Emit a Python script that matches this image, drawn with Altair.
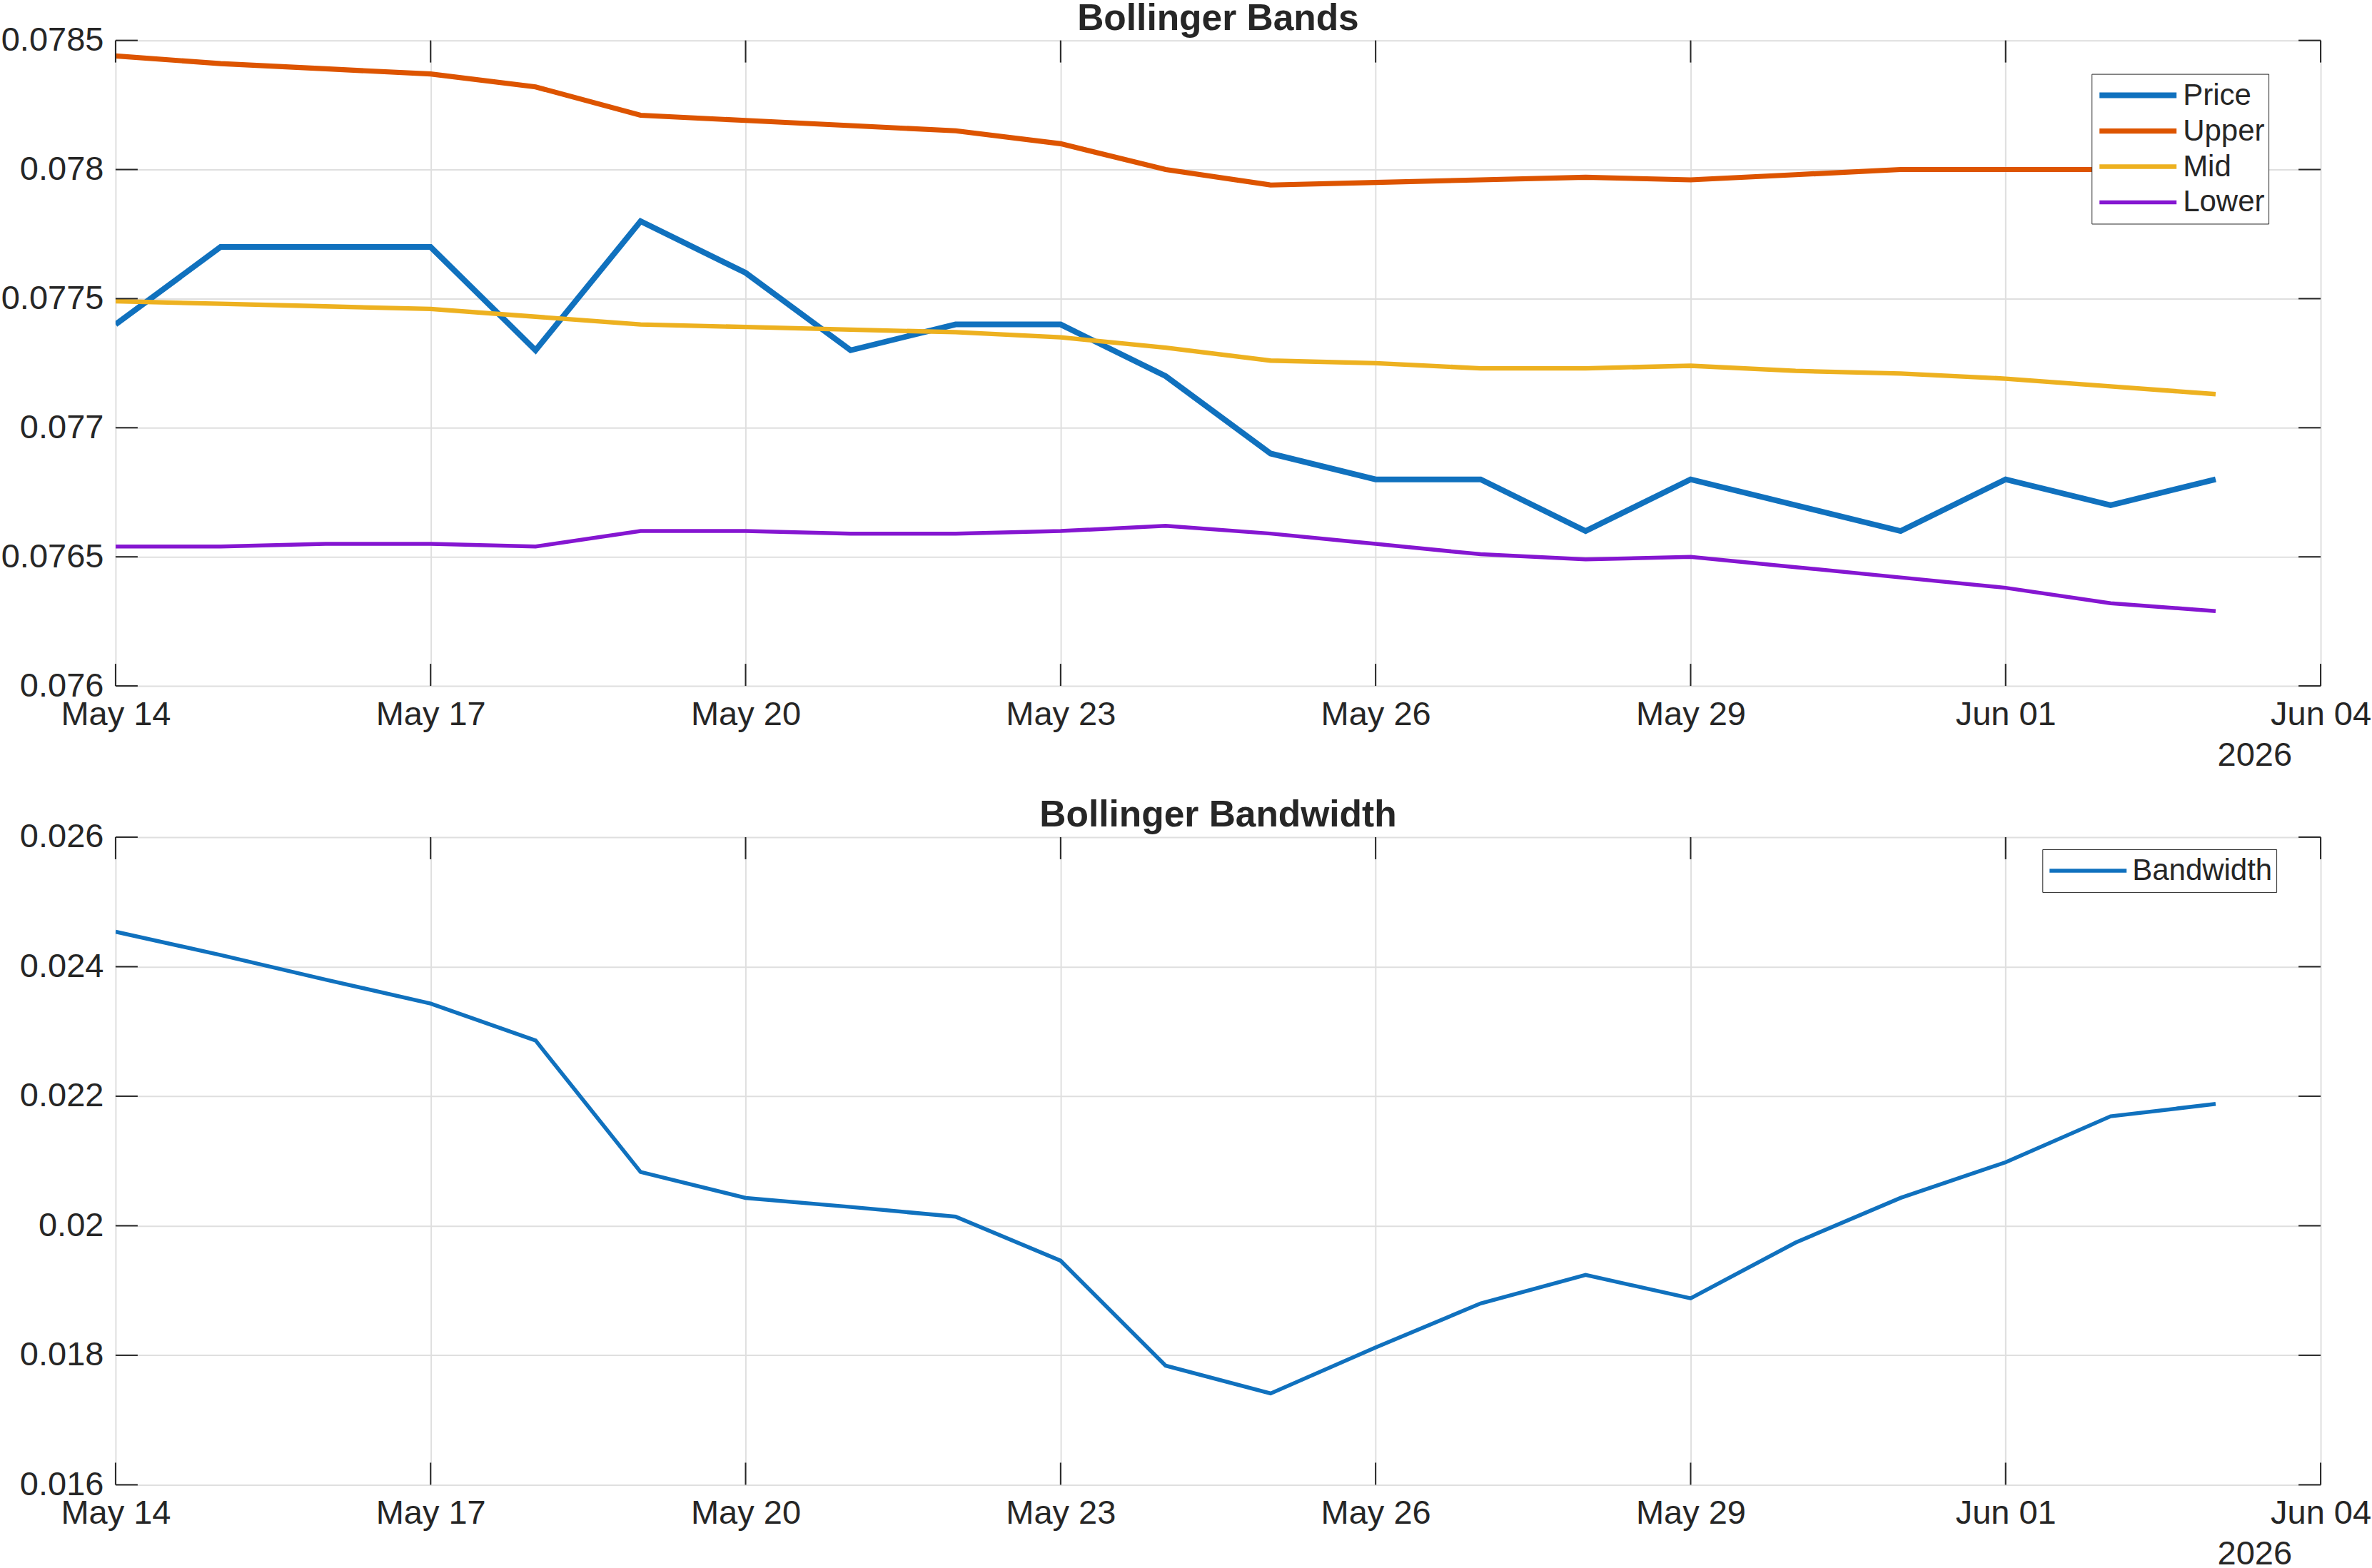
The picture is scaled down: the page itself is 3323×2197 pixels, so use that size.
import altair as alt
import pandas as pd

# ---------------- data ----------------
dates = ["2026-05-14", "2026-05-15", "2026-05-16", "2026-05-17", "2026-05-18",
         "2026-05-19", "2026-05-20", "2026-05-21", "2026-05-22", "2026-05-23",
         "2026-05-24", "2026-05-25", "2026-05-26", "2026-05-27", "2026-05-28",
         "2026-05-29", "2026-05-30", "2026-05-31", "2026-06-01", "2026-06-02",
         "2026-06-03"]
price = [0.0774, 0.0777, 0.0777, 0.0777, 0.0773, 0.0778, 0.0776, 0.0773, 0.0774, 0.0774,
         0.0772, 0.0769, 0.0768, 0.0768, 0.0766, 0.0768, 0.0767, 0.0766, 0.0768, 0.0767,
         0.0768]
upper = [0.07844, 0.07841, 0.07839, 0.07837, 0.07832, 0.07821, 0.07819, 0.07817, 0.07815, 0.07810,
         0.07800, 0.07794, 0.07795, 0.07796, 0.07797, 0.07796, 0.07798, 0.07800, 0.07800, 0.07800,
         0.07799]
mid = [0.07749, 0.07748, 0.07747, 0.07746, 0.07743, 0.07740, 0.07739, 0.07738, 0.07737, 0.07735,
       0.07731, 0.07726, 0.07725, 0.07723, 0.07723, 0.07724, 0.07722, 0.07721, 0.07719, 0.07716,
       0.07713]
lower = [0.07654, 0.07654, 0.07655, 0.07655, 0.07654, 0.07660, 0.07660, 0.07659, 0.07659, 0.07660,
         0.07662, 0.07659, 0.07655, 0.07651, 0.07649, 0.07650, 0.07646, 0.07642, 0.07638, 0.07632,
         0.07629]
bandwidth = [0.02454, 0.02418, 0.02380, 0.02343, 0.02286, 0.02083, 0.02043, 0.02029, 0.02014, 0.01946,
             0.01784, 0.01741, 0.01812, 0.01880, 0.01924, 0.01888, 0.01974, 0.02043, 0.02098, 0.02169,
             0.02188]

series_names = ["Price", "Upper", "Mid", "Lower"]
series_colors = ["#1071BE", "#DD5400", "#EDB120", "#8516D1"]
series_widths = [8, 5.5, 5.5, 5.5]
bw_names = ["Bandwidth"]
bw_colors = ["#1071BE"]
bw_widths = [5.5]

bands_yticks = [0.076, 0.0765, 0.077, 0.0775, 0.078, 0.0785]
bw_yticks = [0.016, 0.018, 0.02, 0.022, 0.024, 0.026]
xtick_dates = ["2026-05-14", "2026-05-17", "2026-05-20", "2026-05-23",
               "2026-05-26", "2026-05-29", "2026-06-01", "2026-06-04"]
x_domain = ["2026-05-14", "2026-06-04"]
year_label = ["2026"]
titles = ["Bollinger Bands", "Bollinger Bandwidth"]

# ---------------- style ----------------
FONT = "Liberation Sans"
INK = "#262626"
GRID = "#DFDFDF"
W = 3091
H1 = 905
H2 = 908
TICK = 31


def dt(s):
    y, m, d = (int(p) for p in s.split("-"))
    return alt.DateTime(year=y, month=m, date=d, utc=True)


xscale = alt.Scale(type="utc", domain=[dt(x_domain[0]), dt(x_domain[1])])
xaxis = alt.Axis(values=[dt(d) for d in xtick_dates], format="%b %d", title=None,
                 grid=True, gridColor=GRID, gridWidth=2, ticks=False, tickSize=0,
                 domain=False, labelPadding=17, labelFlush=False, labelOverlap=False,
                 labelBound=False, labelFontSize=47, labelFont=FONT, labelColor=INK)


def yaxis(vals):
    return alt.Axis(values=vals, format="~g", title=None, grid=True, gridColor=GRID,
                    gridWidth=2, ticks=False, tickSize=0, domain=False, labelPadding=17,
                    labelFlush=False, labelOverlap=False, labelBound=False,
                    labelFontSize=47, labelFont=FONT, labelColor=INK)


def panel(df, names, colors, widths, yticks, H, title, legend_xy):
    yscale = alt.Scale(domain=[yticks[0], yticks[-1]], nice=False, zero=False)
    ya = yaxis(yticks)
    leg_kw = dict(title=None, orient="none", legendX=legend_xy[0], legendY=legend_xy[1],
                  symbolType="stroke", symbolSize=108 * 108, clipHeight=50, rowPadding=0,
                  padding=5, symbolOffset=2, labelOffset=5, labelFontSize=42,
                  labelFont=FONT, labelColor=INK, strokeColor=INK, fillColor="white",
                  labelLimit=0)
    enc = dict(
        x=alt.X("date:T", scale=xscale, axis=xaxis),
        y=alt.Y("value:Q", scale=yscale, axis=ya),
        order=alt.Order("idx:Q"),
    )
    if len(names) > 1:
        leg = alt.Legend(**leg_kw)
        enc["color"] = alt.Color("series:N", scale=alt.Scale(domain=names, range=colors),
                                 legend=leg)
        enc["strokeWidth"] = alt.StrokeWidth("series:N",
                                             scale=alt.Scale(domain=names, range=widths),
                                             legend=leg)
        lines = alt.Chart(df).mark_line(clip=True).encode(**enc)
    else:
        leg = alt.Legend(symbolStrokeWidth=widths[0], **leg_kw)
        enc["color"] = alt.Color("series:N", scale=alt.Scale(domain=names, range=colors),
                                 legend=leg)
        lines = alt.Chart(df).mark_line(clip=True, strokeWidth=widths[0]).encode(**enc)

    yt = pd.DataFrame({"v": yticks})
    xt = pd.DataFrame({"d": xtick_dates})
    rule = dict(color=INK, strokeWidth=2)
    ytl = alt.Chart(yt).mark_rule(**rule).encode(
        y=alt.Y("v:Q", scale=yscale, axis=ya), x=alt.value(0), x2=alt.value(TICK))
    ytr = alt.Chart(yt).mark_rule(**rule).encode(
        y=alt.Y("v:Q", scale=yscale, axis=ya), x=alt.value(W - TICK), x2=alt.value(W))
    xtt = alt.Chart(xt).mark_rule(**rule).encode(
        x=alt.X("d:T", scale=xscale, axis=xaxis), y=alt.value(0), y2=alt.value(TICK))
    xtb = alt.Chart(xt).mark_rule(**rule).encode(
        x=alt.X("d:T", scale=xscale, axis=xaxis), y=alt.value(H - TICK), y2=alt.value(H))
    yr = pd.DataFrame({"t": year_label, "d": [x_domain[1]]})
    year = alt.Chart(yr).mark_text(align="right", baseline="middle", dx=-40, fontSize=47,
                                   font=FONT, color=INK).encode(
        x=alt.X("d:T", scale=xscale, axis=xaxis), y=alt.value(H + 98), text="t:N")
    return alt.layer(lines, ytl, ytr, xtt, xtb, year).properties(
        width=W, height=H,
        title=alt.TitleParams(title, fontSize=51.5, fontWeight="bold", font=FONT, color=INK,
                              offset=-61, baseline="alphabetic", anchor="middle", frame="group"),
    )


rows = []
for i, d in enumerate(dates):
    for s, vals in zip(series_names, [price, upper, mid, lower]):
        rows.append({"date": d, "value": vals[i], "series": s, "idx": i})
df_bands = pd.DataFrame(rows)
df_bw = pd.DataFrame({"date": dates, "value": bandwidth, "series": bw_names * len(dates),
                      "idx": list(range(len(dates)))})

top = panel(df_bands, series_names, series_colors, series_widths, bands_yticks, H1,
            titles[0], (2770, 47))
bottom = panel(df_bw, bw_names, bw_colors, bw_widths, bw_yticks, H2, titles[1], (2701, 17))

chart = alt.vconcat(top, bottom, spacing=212, bounds="flush").resolve_scale(
    y="independent", color="independent", strokeWidth="independent"
).resolve_legend(color="independent", strokeWidth="independent").properties(
    padding=0, background="white"
).configure_view(stroke=INK, strokeWidth=2).configure(font=FONT)

chart.save("out.html", embed_options={"renderer": "svg", "actions": False})
